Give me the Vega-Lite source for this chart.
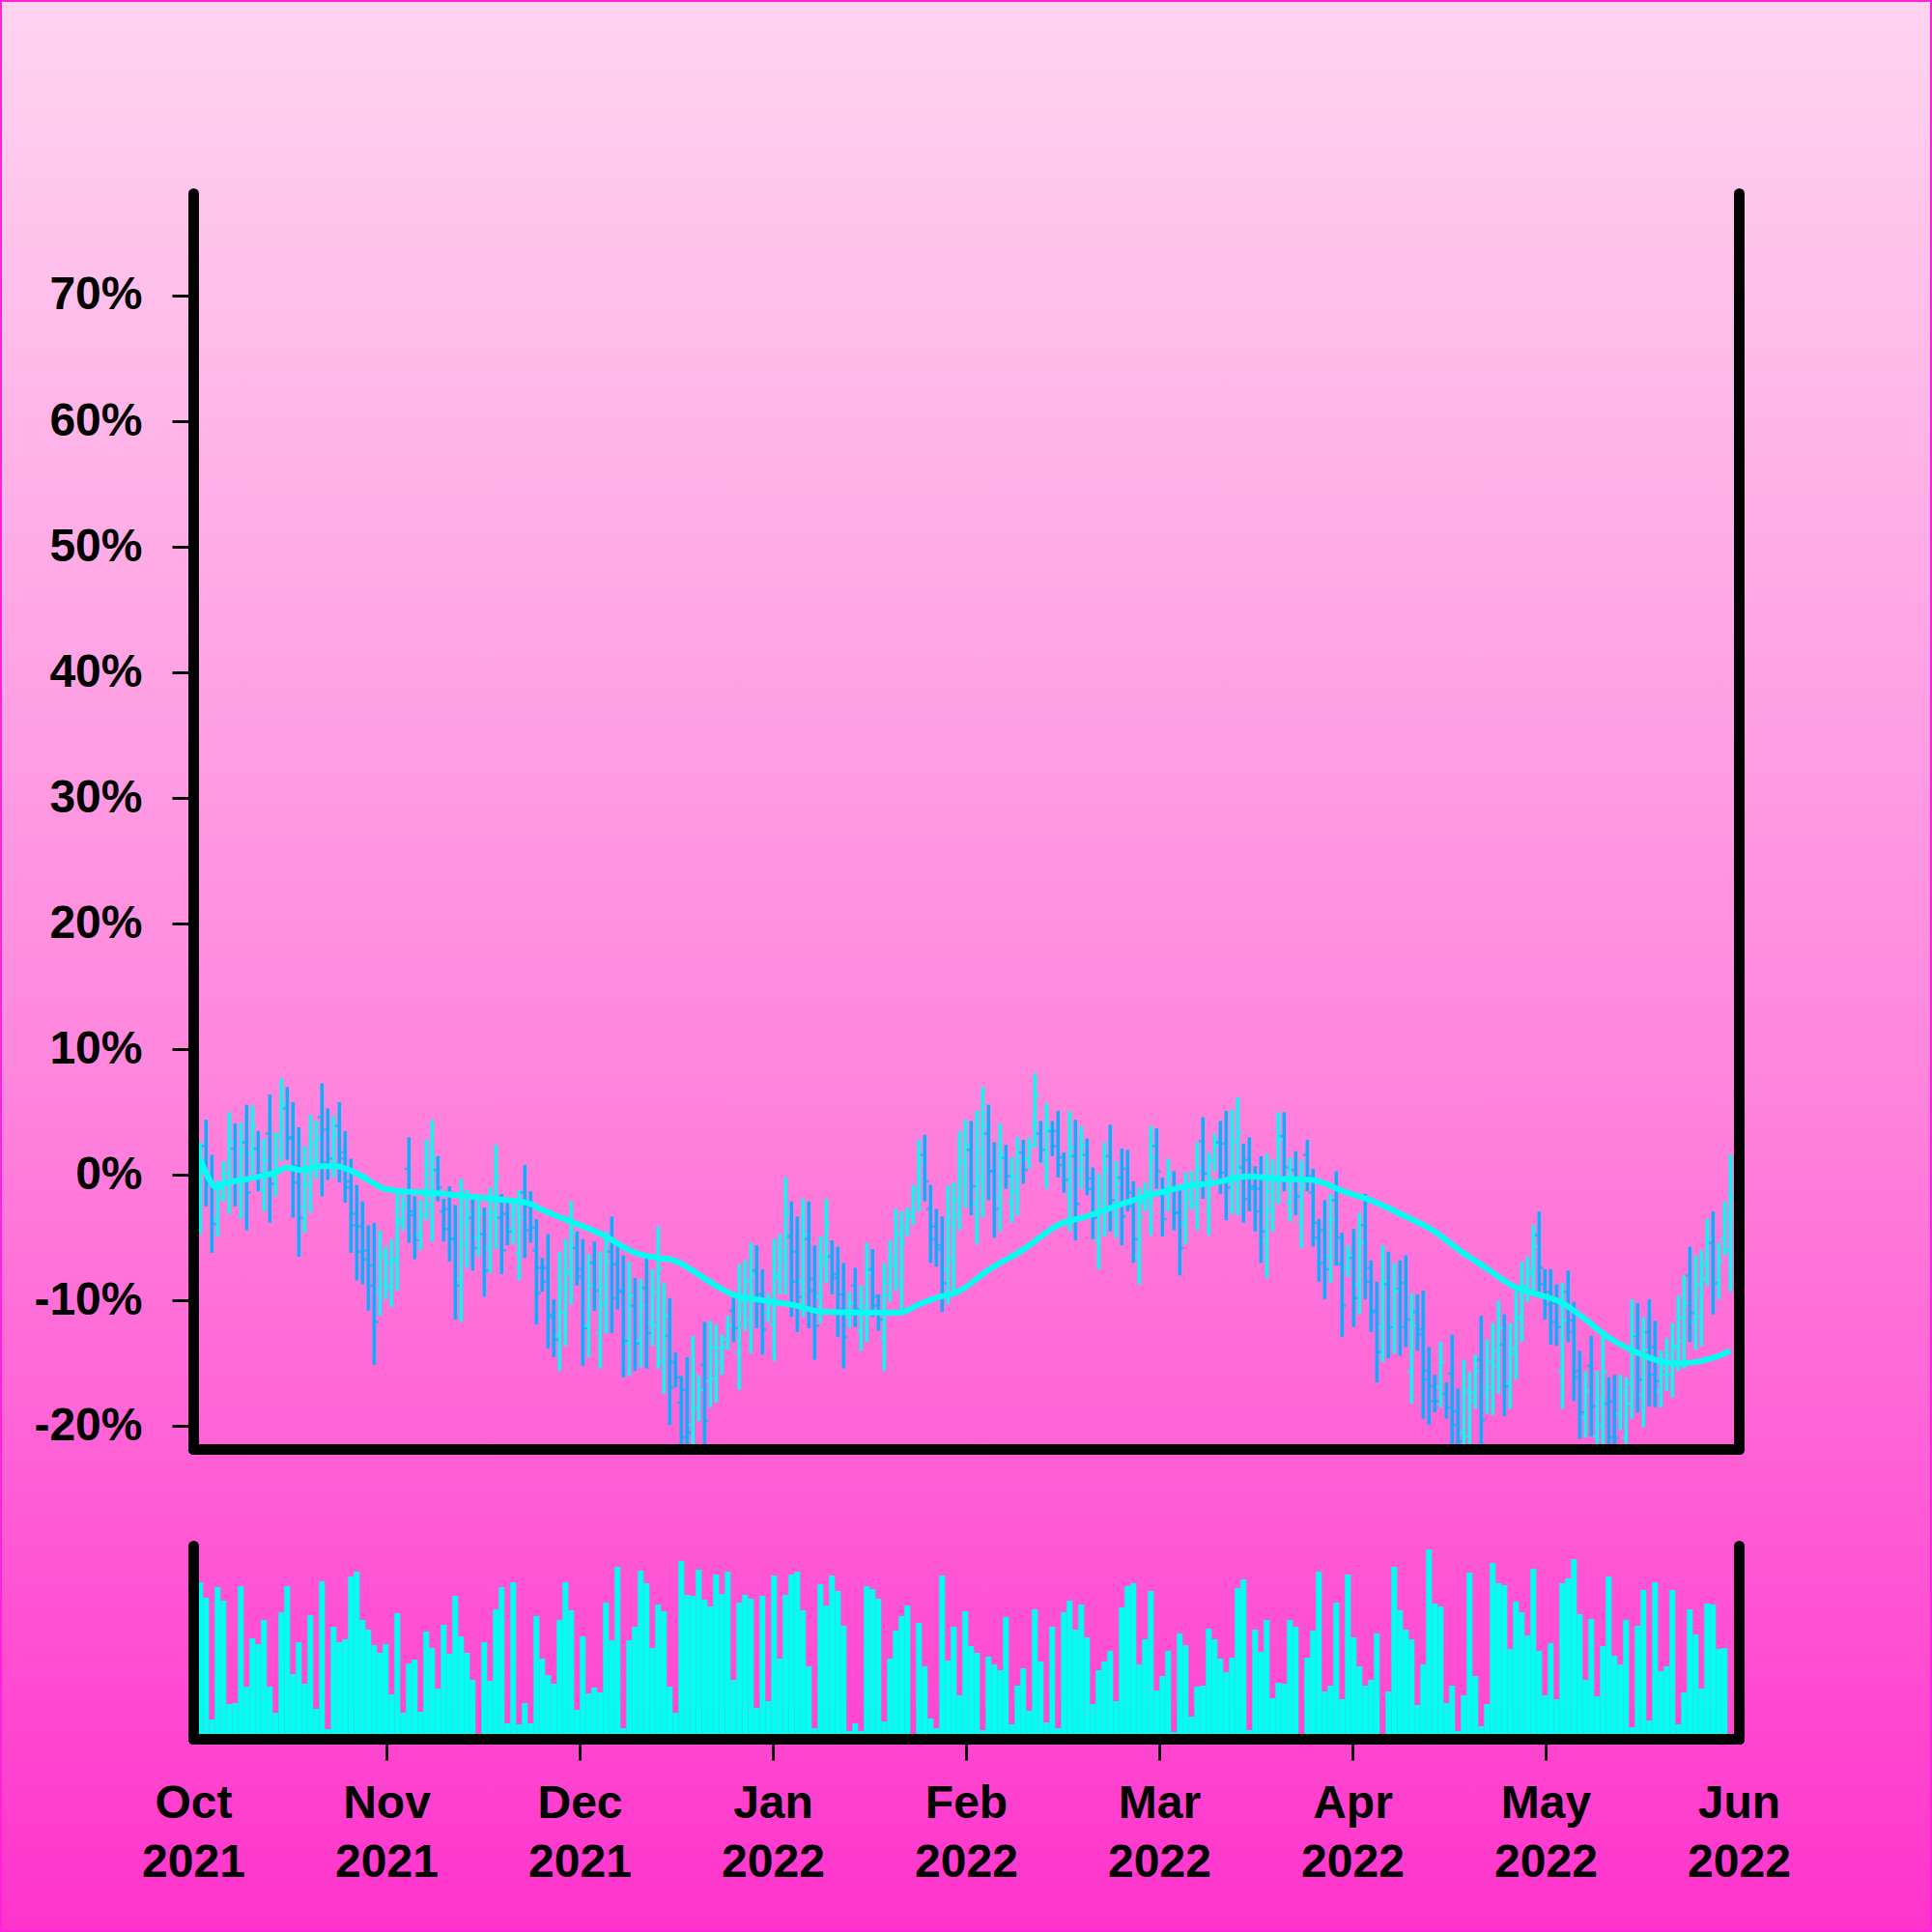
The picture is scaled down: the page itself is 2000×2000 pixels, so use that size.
{
  "$schema": "https://vega.github.io/schema/vega-lite/v6.json",
  "padding": 0,
  "autosize": {"type": "pad"},
  "background": "#FF22DA",
  "spacing": 100,
  "bounds": "flush",
  "config": {
    "view": {"stroke": null},
    "axis": {"labelFont": "Liberation Sans", "labelFontSize": 48, "labelFontWeight": "bold", "labelColor": "#000000", "domainColor": "#000000", "tickColor": "#000000", "grid": false}
  },
  "datasets": {
    "bars": [
      {"i":0,"o":-2.4,"h":2.5,"l":-4.5,"c":0.4,"v":150},
      {"i":1,"o":-2.5,"h":2.6,"l":-4.7,"c":0.4,"v":162},
      {"i":2,"o":2.3,"h":4.4,"l":-2.5,"c":-0.4,"v":146},
      {"i":3,"o":-0.7,"h":1.6,"l":-6.2,"c":-3.9,"v":20},
      {"i":4,"o":-3.5,"h":-0.4,"l":-4.9,"c":-1.8,"v":157},
      {"i":5,"o":-1.1,"h":1.1,"l":-2.1,"c":0.1,"v":143},
      {"i":6,"o":-0.7,"h":5.0,"l":-3.1,"c":2.6,"v":36},
      {"i":7,"o":2.1,"h":4.1,"l":-2.5,"c":-0.5,"v":37},
      {"i":8,"o":-1.2,"h":4.2,"l":-3.5,"c":1.9,"v":158},
      {"i":9,"o":2.6,"h":5.6,"l":-4.4,"c":-1.4,"v":54},
      {"i":10,"o":1.7,"h":5.5,"l":0.1,"c":3.9,"v":104},
      {"i":11,"o":2.1,"h":3.5,"l":-1.3,"c":0.1,"v":98},
      {"i":12,"o":-1.2,"h":2.9,"l":-2.9,"c":1.2,"v":123},
      {"i":13,"o":3.3,"h":6.4,"l":-3.8,"c":-0.7,"v":54},
      {"i":14,"o":-0.2,"h":3.4,"l":-1.7,"c":1.9,"v":27},
      {"i":15,"o":3.1,"h":7.7,"l":1.1,"c":5.7,"v":131},
      {"i":16,"o":5.3,"h":7.0,"l":1.2,"c":2.9,"v":158},
      {"i":17,"o":3.0,"h":5.8,"l":-3.4,"c":-0.6,"v":67},
      {"i":18,"o":0.7,"h":3.8,"l":-6.5,"c":-3.4,"v":100},
      {"i":19,"o":-2.5,"h":2.3,"l":-4.6,"c":0.2,"v":57},
      {"i":20,"o":-0.7,"h":4.8,"l":-3.0,"c":2.5,"v":128},
      {"i":21,"o":1.1,"h":4.3,"l":-0.3,"c":2.9,"v":31},
      {"i":22,"o":4.6,"h":7.3,"l":-1.7,"c":1.0,"v":163},
      {"i":23,"o":3.6,"h":5.3,"l":-0.4,"c":1.3,"v":10},
      {"i":24,"o":1.3,"h":4.7,"l":-0.2,"c":3.2,"v":116},
      {"i":25,"o":3.9,"h":5.8,"l":-0.6,"c":1.3,"v":100},
      {"i":26,"o":1.8,"h":3.5,"l":-2.2,"c":-0.5,"v":103},
      {"i":27,"o":-1.0,"h":1.3,"l":-6.2,"c":-4.0,"v":168},
      {"i":28,"o":-3.1,"h":-0.8,"l":-8.4,"c":-6.1,"v":173},
      {"i":29,"o":-4.1,"h":-2.1,"l":-8.7,"c":-6.7,"v":123},
      {"i":30,"o":-6.0,"h":-4.0,"l":-10.8,"c":-8.8,"v":113},
      {"i":31,"o":-7.2,"h":-3.8,"l":-15.1,"c":-11.7,"v":97},
      {"i":32,"o":-9.2,"h":-4.4,"l":-11.2,"c":-6.4,"v":89},
      {"i":33,"o":-8.6,"h":-5.7,"l":-9.9,"c":-7.0,"v":98},
      {"i":34,"o":-8.9,"h":-5.1,"l":-10.5,"c":-6.7,"v":46},
      {"i":35,"o":-6.9,"h":-1.5,"l":-9.2,"c":-3.8,"v":130},
      {"i":36,"o":-3.6,"h":-1.6,"l":-4.4,"c":-2.4,"v":27},
      {"i":37,"o":0.5,"h":3.0,"l":-5.4,"c":-2.9,"v":78},
      {"i":38,"o":-3.2,"h":-1.7,"l":-6.7,"c":-5.2,"v":82},
      {"i":39,"o":-4.8,"h":-2.0,"l":-6.0,"c":-3.2,"v":28},
      {"i":40,"o":-1.7,"h":2.8,"l":-3.6,"c":0.9,"v":111},
      {"i":41,"o":-2.4,"h":4.4,"l":-5.3,"c":1.5,"v":94},
      {"i":42,"o":0.4,"h":1.5,"l":-2.1,"c":-1.0,"v":52},
      {"i":43,"o":-2.9,"h":-1.9,"l":-5.3,"c":-4.3,"v":118},
      {"i":44,"o":-2.7,"h":-0.9,"l":-6.9,"c":-5.1,"v":88},
      {"i":45,"o":-5.1,"h":-2.4,"l":-11.5,"c":-8.8,"v":148},
      {"i":46,"o":-8.3,"h":-0.3,"l":-11.7,"c":-3.7,"v":106},
      {"i":47,"o":-5.5,"h":-1.2,"l":-7.4,"c":-3.1,"v":89},
      {"i":48,"o":-3.4,"h":-1.6,"l":-7.6,"c":-5.8,"v":61},
      {"i":49,"o":-5.0,"h":-1.6,"l":-6.5,"c":-3.1,"v":0},
      {"i":50,"o":-4.7,"h":-2.6,"l":-9.7,"c":-7.6,"v":100},
      {"i":51,"o":-5.8,"h":-1.0,"l":-7.8,"c":-3.0,"v":60},
      {"i":52,"o":-3.4,"h":2.4,"l":-5.9,"c":-0.1,"v":134},
      {"i":53,"o":-3.4,"h":-1.5,"l":-7.9,"c":-6.0,"v":157},
      {"i":54,"o":-3.1,"h":-2.0,"l":-5.6,"c":-4.5,"v":16},
      {"i":55,"o":-4.4,"h":-1.8,"l":-5.5,"c":-2.9,"v":162},
      {"i":56,"o":-6.2,"h":-1.2,"l":-8.4,"c":-3.4,"v":15},
      {"i":57,"o":-1.4,"h":0.8,"l":-6.6,"c":-4.4,"v":37},
      {"i":58,"o":-2.5,"h":-1.3,"l":-5.4,"c":-4.2,"v":16},
      {"i":59,"o":-6.0,"h":-3.5,"l":-11.9,"c":-9.4,"v":127},
      {"i":60,"o":-7.4,"h":-6.6,"l":-9.3,"c":-8.5,"v":83},
      {"i":61,"o":-7.4,"h":-4.7,"l":-13.8,"c":-11.1,"v":66},
      {"i":62,"o":-11.3,"h":-9.9,"l":-14.5,"c":-13.1,"v":57},
      {"i":63,"o":-12.8,"h":-6.1,"l":-15.6,"c":-9.0,"v":123},
      {"i":64,"o":-11.0,"h":-5.1,"l":-13.6,"c":-7.7,"v":162},
      {"i":65,"o":-7.8,"h":-2.1,"l":-10.3,"c":-4.6,"v":133},
      {"i":66,"o":-5.8,"h":-4.5,"l":-8.8,"c":-7.5,"v":30},
      {"i":67,"o":-8.1,"h":-5.1,"l":-15.2,"c":-12.2,"v":106},
      {"i":68,"o":-12.0,"h":-6.3,"l":-14.5,"c":-8.8,"v":47},
      {"i":69,"o":-7.0,"h":-5.3,"l":-10.8,"c":-9.2,"v":53},
      {"i":70,"o":-12.6,"h":-6.1,"l":-15.4,"c":-8.9,"v":48},
      {"i":71,"o":-10.2,"h":-4.5,"l":-12.6,"c":-6.9,"v":141},
      {"i":72,"o":-6.1,"h":-3.3,"l":-12.6,"c":-9.8,"v":102},
      {"i":73,"o":-7.1,"h":-5.6,"l":-10.7,"c":-9.2,"v":178},
      {"i":74,"o":-9.3,"h":-6.4,"l":-16.1,"c":-13.2,"v":11},
      {"i":75,"o":-13.3,"h":-6.9,"l":-16.0,"c":-9.6,"v":102},
      {"i":76,"o":-10.4,"h":-8.2,"l":-15.6,"c":-13.4,"v":116},
      {"i":77,"o":-13.2,"h":-8.3,"l":-15.3,"c":-10.4,"v":174},
      {"i":78,"o":-9.0,"h":-6.2,"l":-15.4,"c":-12.6,"v":161},
      {"i":79,"o":-11.8,"h":-7.5,"l":-13.6,"c":-9.3,"v":94},
      {"i":80,"o":-12.0,"h":-4.1,"l":-15.4,"c":-7.5,"v":139},
      {"i":81,"o":-14.8,"h":-8.6,"l":-17.4,"c":-11.2,"v":132},
      {"i":82,"o":-12.8,"h":-9.8,"l":-19.9,"c":-16.9,"v":54},
      {"i":83,"o":-14.9,"h":-14.1,"l":-16.9,"c":-16.1,"v":27},
      {"i":84,"o":-18.1,"h":-16.0,"l":-23.0,"c":-20.9,"v":184},
      {"i":85,"o":-17.1,"h":-14.5,"l":-23.0,"c":-20.5,"v":149},
      {"i":86,"o":-19.9,"h":-12.8,"l":-23.0,"c":-15.9,"v":148},
      {"i":87,"o":-18.5,"h":-16.0,"l":-19.6,"c":-17.1,"v":175},
      {"i":88,"o":-15.1,"h":-11.7,"l":-23.0,"c":-19.6,"v":144},
      {"i":89,"o":-16.4,"h":-11.6,"l":-18.5,"c":-13.7,"v":137},
      {"i":90,"o":-16.2,"h":-11.9,"l":-18.1,"c":-13.8,"v":170},
      {"i":91,"o":-14.9,"h":-12.7,"l":-15.9,"c":-13.7,"v":150},
      {"i":92,"o":-13.1,"h":-11.2,"l":-13.9,"c":-12.0,"v":173},
      {"i":93,"o":-10.8,"h":-9.7,"l":-13.3,"c":-12.2,"v":61},
      {"i":94,"o":-14.1,"h":-7.1,"l":-17.1,"c":-10.1,"v":141},
      {"i":95,"o":-10.7,"h":-6.8,"l":-12.4,"c":-8.5,"v":149},
      {"i":96,"o":-11.6,"h":-5.4,"l":-14.2,"c":-8.0,"v":145},
      {"i":97,"o":-7.6,"h":-5.6,"l":-12.2,"c":-10.2,"v":32},
      {"i":98,"o":-9.5,"h":-7.5,"l":-14.3,"c":-12.3,"v":148},
      {"i":99,"o":-11.0,"h":-9.4,"l":-11.7,"c":-10.1,"v":39},
      {"i":100,"o":-11.9,"h":-5.1,"l":-14.8,"c":-8.0,"v":169},
      {"i":101,"o":-8.1,"h":-4.7,"l":-9.5,"c":-6.1,"v":83},
      {"i":102,"o":-6.7,"h":-0.2,"l":-9.5,"c":-3.0,"v":149},
      {"i":103,"o":-4.9,"h":-2.1,"l":-11.3,"c":-8.5,"v":170},
      {"i":104,"o":-6.1,"h":-3.3,"l":-12.5,"c":-9.7,"v":173},
      {"i":105,"o":-8.5,"h":-1.9,"l":-11.3,"c":-4.7,"v":133},
      {"i":106,"o":-5.1,"h":-2.1,"l":-12.2,"c":-9.2,"v":75},
      {"i":107,"o":-8.3,"h":-5.6,"l":-14.7,"c":-12.0,"v":11},
      {"i":108,"o":-9.7,"h":-4.9,"l":-11.8,"c":-7.0,"v":160},
      {"i":109,"o":-6.6,"h":-1.9,"l":-8.6,"c":-3.9,"v":138},
      {"i":110,"o":-6.5,"h":-5.2,"l":-9.5,"c":-8.2,"v":169},
      {"i":111,"o":-7.9,"h":-5.7,"l":-12.9,"c":-10.7,"v":153},
      {"i":112,"o":-9.5,"h":-7.0,"l":-15.4,"c":-12.9,"v":117},
      {"i":113,"o":-11.3,"h":-9.3,"l":-12.2,"c":-10.2,"v":8},
      {"i":114,"o":-8.8,"h":-7.4,"l":-12.1,"c":-10.7,"v":16},
      {"i":115,"o":-12.4,"h":-8.8,"l":-14.0,"c":-10.4,"v":8},
      {"i":116,"o":-10.9,"h":-5.4,"l":-13.3,"c":-7.8,"v":158},
      {"i":117,"o":-7.5,"h":-5.9,"l":-11.3,"c":-9.7,"v":155},
      {"i":118,"o":-10.4,"h":-9.5,"l":-12.4,"c":-11.5,"v":145},
      {"i":119,"o":-13.0,"h":-7.0,"l":-15.6,"c":-9.6,"v":18},
      {"i":120,"o":-8.6,"h":-5.2,"l":-10.1,"c":-6.7,"v":83},
      {"i":121,"o":-7.2,"h":-2.7,"l":-9.2,"c":-4.7,"v":112},
      {"i":122,"o":-8.6,"h":-2.9,"l":-11.1,"c":-5.4,"v":127},
      {"i":123,"o":-4.2,"h":-2.6,"l":-4.9,"c":-3.3,"v":138},
      {"i":124,"o":-3.0,"h":-0.8,"l":-4.0,"c":-1.8,"v":0},
      {"i":125,"o":-1.2,"h":2.8,"l":-2.9,"c":1.1,"v":120},
      {"i":126,"o":1.6,"h":3.2,"l":-2.1,"c":-0.5,"v":75},
      {"i":127,"o":-2.7,"h":-0.8,"l":-7.0,"c":-5.1,"v":21},
      {"i":128,"o":-4.1,"h":-2.7,"l":-7.3,"c":-5.9,"v":11},
      {"i":129,"o":-5.6,"h":-3.3,"l":-10.9,"c":-8.6,"v":169},
      {"i":130,"o":-7.5,"h":-0.8,"l":-10.3,"c":-3.7,"v":81},
      {"i":131,"o":-6.7,"h":-0.6,"l":-9.3,"c":-3.2,"v":116},
      {"i":132,"o":-2.0,"h":3.5,"l":-4.4,"c":1.1,"v":45},
      {"i":133,"o":-0.5,"h":4.4,"l":-2.6,"c":2.3,"v":132},
      {"i":134,"o":2.0,"h":4.3,"l":-3.2,"c":-0.9,"v":96},
      {"i":135,"o":-2.3,"h":5.1,"l":-5.5,"c":1.9,"v":89},
      {"i":136,"o":-0.3,"h":7.0,"l":-3.4,"c":3.9,"v":9},
      {"i":137,"o":3.3,"h":5.6,"l":-2.0,"c":0.3,"v":85},
      {"i":138,"o":0.3,"h":2.6,"l":-5.0,"c":-2.7,"v":77},
      {"i":139,"o":-1.9,"h":4.1,"l":-4.5,"c":1.5,"v":71},
      {"i":140,"o":1.4,"h":2.4,"l":-1.1,"c":-0.1,"v":126},
      {"i":141,"o":-2.2,"h":1.4,"l":-3.8,"c":-0.2,"v":15},
      {"i":142,"o":-1.3,"h":3.0,"l":-3.2,"c":1.1,"v":55},
      {"i":143,"o":1.8,"h":2.8,"l":-0.7,"c":0.4,"v":73},
      {"i":144,"o":1.3,"h":3.0,"l":0.5,"c":2.3,"v":29},
      {"i":145,"o":4.0,"h":8.1,"l":2.2,"c":6.3,"v":134},
      {"i":146,"o":3.3,"h":4.3,"l":1.0,"c":2.0,"v":80},
      {"i":147,"o":0.9,"h":5.7,"l":-1.1,"c":3.7,"v":17},
      {"i":148,"o":3.5,"h":4.3,"l":1.5,"c":2.3,"v":116},
      {"i":149,"o":3.5,"h":5.1,"l":-0.2,"c":1.4,"v":11},
      {"i":150,"o":0.8,"h":1.8,"l":-1.4,"c":-0.4,"v":131},
      {"i":151,"o":-1.6,"h":5.1,"l":-4.5,"c":2.2,"v":143},
      {"i":152,"o":1.5,"h":4.4,"l":-5.2,"c":-2.3,"v":113},
      {"i":153,"o":0.4,"h":3.9,"l":-1.1,"c":2.4,"v":139},
      {"i":154,"o":1.6,"h":2.9,"l":-1.6,"c":-0.3,"v":105},
      {"i":155,"o":-1.1,"h":0.6,"l":-5.1,"c":-3.4,"v":36},
      {"i":156,"o":-5.2,"h":0.1,"l":-7.5,"c":-2.2,"v":71},
      {"i":157,"o":-2.7,"h":2.6,"l":-4.9,"c":0.4,"v":80},
      {"i":158,"o":1.5,"h":4.0,"l":-4.5,"c":-2.0,"v":91},
      {"i":159,"o":-3.2,"h":1.1,"l":-5.0,"c":-0.7,"v":39},
      {"i":160,"o":-0.2,"h":2.1,"l":-5.6,"c":-3.3,"v":136},
      {"i":161,"o":0.5,"h":2.0,"l":-2.9,"c":-1.4,"v":158},
      {"i":162,"o":-2.5,"h":-0.5,"l":-7.0,"c":-5.1,"v":161},
      {"i":163,"o":-6.4,"h":-1.0,"l":-8.7,"c":-3.3,"v":77},
      {"i":164,"o":-2.2,"h":-0.6,"l":-2.9,"c":-1.3,"v":103},
      {"i":165,"o":-2.2,"h":3.9,"l":-4.8,"c":1.3,"v":153},
      {"i":166,"o":2.3,"h":3.7,"l":-1.1,"c":0.3,"v":50},
      {"i":167,"o":-1.6,"h":-0.2,"l":-4.9,"c":-3.5,"v":65},
      {"i":168,"o":-1.6,"h":1.3,"l":-2.9,"c":0.0,"v":91},
      {"i":169,"o":-1.1,"h":0.3,"l":-4.4,"c":-3.0,"v":7},
      {"i":170,"o":-3.0,"h":-0.8,"l":-8.0,"c":-5.8,"v":109},
      {"i":171,"o":-3.8,"h":0.2,"l":-5.5,"c":-1.5,"v":97},
      {"i":172,"o":-1.9,"h":0.3,"l":-2.8,"c":-0.6,"v":23},
      {"i":173,"o":-2.3,"h":2.6,"l":-4.4,"c":0.5,"v":54},
      {"i":174,"o":2.7,"h":4.6,"l":-1.9,"c":0.1,"v":55},
      {"i":175,"o":-2.8,"h":1.8,"l":-4.8,"c":-0.2,"v":114},
      {"i":176,"o":1.2,"h":3.3,"l":0.3,"c":2.4,"v":103},
      {"i":177,"o":2.6,"h":4.3,"l":-1.5,"c":0.2,"v":83},
      {"i":178,"o":2.5,"h":5.1,"l":-3.6,"c":-1.0,"v":69},
      {"i":179,"o":-0.6,"h":5.2,"l":-3.1,"c":2.7,"v":84},
      {"i":180,"o":-0.4,"h":6.2,"l":-3.2,"c":3.4,"v":156},
      {"i":181,"o":0.6,"h":2.5,"l":-3.8,"c":-1.9,"v":165},
      {"i":182,"o":1.2,"h":3.0,"l":-2.9,"c":-1.1,"v":9},
      {"i":183,"o":-0.9,"h":0.7,"l":-4.5,"c":-2.9,"v":113},
      {"i":184,"o":-1.1,"h":1.5,"l":-7.0,"c":-4.5,"v":90},
      {"i":185,"o":-5.2,"h":1.7,"l":-8.2,"c":-1.3,"v":123},
      {"i":186,"o":-2.8,"h":1.2,"l":-4.5,"c":-0.5,"v":42},
      {"i":187,"o":-0.1,"h":5.0,"l":-2.3,"c":2.8,"v":58},
      {"i":188,"o":3.1,"h":5.0,"l":-1.3,"c":0.6,"v":57},
      {"i":189,"o":-2.2,"h":1.4,"l":-3.7,"c":-0.1,"v":123},
      {"i":190,"o":0.4,"h":1.9,"l":-3.2,"c":-1.7,"v":116},
      {"i":191,"o":-3.7,"h":1.2,"l":-5.8,"c":-0.9,"v":0},
      {"i":192,"o":1.6,"h":2.8,"l":-1.3,"c":-0.1,"v":84},
      {"i":193,"o":-1.4,"h":0.5,"l":-5.7,"c":-3.8,"v":112},
      {"i":194,"o":-5.0,"h":-3.5,"l":-8.5,"c":-7.0,"v":173},
      {"i":195,"o":-4.4,"h":-2.0,"l":-9.9,"c":-7.5,"v":49},
      {"i":196,"o":-6.5,"h":-1.5,"l":-8.6,"c":-3.6,"v":55},
      {"i":197,"o":-2.0,"h":0.3,"l":-7.2,"c":-5.0,"v":141},
      {"i":198,"o":-7.1,"h":-4.6,"l":-12.9,"c":-10.4,"v":41},
      {"i":199,"o":-7.4,"h":-5.6,"l":-8.1,"c":-6.4,"v":170},
      {"i":200,"o":-6.6,"h":-4.3,"l":-12.1,"c":-9.8,"v":105},
      {"i":201,"o":-8.7,"h":-3.0,"l":-11.1,"c":-5.4,"v":75},
      {"i":202,"o":-4.0,"h":-1.5,"l":-9.9,"c":-7.4,"v":55},
      {"i":203,"o":-8.5,"h":-6.8,"l":-12.5,"c":-10.8,"v":61},
      {"i":204,"o":-10.9,"h":-8.5,"l":-16.5,"c":-14.1,"v":109},
      {"i":205,"o":-12.1,"h":-5.6,"l":-14.9,"c":-8.4,"v":0},
      {"i":206,"o":-8.7,"h":-6.1,"l":-14.6,"c":-12.1,"v":49},
      {"i":207,"o":-12.0,"h":-7.0,"l":-14.2,"c":-9.2,"v":178},
      {"i":208,"o":-9.1,"h":-6.8,"l":-14.4,"c":-12.1,"v":133},
      {"i":209,"o":-8.6,"h":-6.4,"l":-13.7,"c":-11.5,"v":113},
      {"i":210,"o":-15.6,"h":-9.4,"l":-18.2,"c":-12.0,"v":103},
      {"i":211,"o":-10.9,"h":-9.5,"l":-14.0,"c":-12.7,"v":35},
      {"i":212,"o":-12.3,"h":-9.2,"l":-19.4,"c":-16.3,"v":77},
      {"i":213,"o":-15.6,"h":-13.7,"l":-19.9,"c":-18.0,"v":196},
      {"i":214,"o":-16.8,"h":-15.9,"l":-18.9,"c":-18.0,"v":140},
      {"i":215,"o":-16.9,"h":-13.3,"l":-18.5,"c":-14.9,"v":137},
      {"i":216,"o":-17.4,"h":-16.5,"l":-19.4,"c":-18.5,"v":37},
      {"i":217,"o":-15.8,"h":-12.7,"l":-23.0,"c":-19.9,"v":55},
      {"i":218,"o":-18.8,"h":-17.0,"l":-23.0,"c":-21.2,"v":8},
      {"i":219,"o":-20.5,"h":-14.7,"l":-23.0,"c":-17.2,"v":45},
      {"i":220,"o":-20.8,"h":-15.7,"l":-23.0,"c":-17.9,"v":172},
      {"i":221,"o":-17.3,"h":-14.3,"l":-18.6,"c":-15.6,"v":65},
      {"i":222,"o":-14.7,"h":-11.2,"l":-23.0,"c":-19.5,"v":13},
      {"i":223,"o":-17.2,"h":-13.1,"l":-19.0,"c":-14.9,"v":36},
      {"i":224,"o":-16.9,"h":-11.8,"l":-19.1,"c":-14.0,"v":182},
      {"i":225,"o":-15.2,"h":-10.0,"l":-17.4,"c":-12.2,"v":161},
      {"i":226,"o":-13.5,"h":-11.1,"l":-19.2,"c":-16.8,"v":159},
      {"i":227,"o":-16.6,"h":-11.8,"l":-18.6,"c":-13.8,"v":93},
      {"i":228,"o":-14.2,"h":-9.2,"l":-16.3,"c":-11.3,"v":142},
      {"i":229,"o":-11.4,"h":-6.9,"l":-13.3,"c":-8.8,"v":131},
      {"i":230,"o":-9.0,"h":-6.5,"l":-10.1,"c":-7.6,"v":107},
      {"i":231,"o":-7.9,"h":-4.0,"l":-9.5,"c":-5.7,"v":176},
      {"i":232,"o":-4.8,"h":-2.9,"l":-9.3,"c":-7.4,"v":91},
      {"i":233,"o":-8.7,"h":-7.5,"l":-11.5,"c":-10.3,"v":45},
      {"i":234,"o":-9.3,"h":-7.5,"l":-13.5,"c":-11.7,"v":99},
      {"i":235,"o":-10.2,"h":-8.7,"l":-13.6,"c":-12.1,"v":41},
      {"i":236,"o":-15.6,"h":-8.6,"l":-18.6,"c":-11.6,"v":161},
      {"i":237,"o":-9.3,"h":-7.6,"l":-13.3,"c":-11.6,"v":166},
      {"i":238,"o":-12.5,"h":-10.1,"l":-18.0,"c":-15.6,"v":186},
      {"i":239,"o":-16.1,"h":-14.0,"l":-21.0,"c":-18.9,"v":129},
      {"i":240,"o":-19.3,"h":-15.6,"l":-20.9,"c":-17.2,"v":61},
      {"i":241,"o":-15.2,"h":-12.8,"l":-20.8,"c":-18.4,"v":124},
      {"i":242,"o":-20.8,"h":-15.6,"l":-23.0,"c":-17.8,"v":44},
      {"i":243,"o":-19.9,"h":-12.6,"l":-23.0,"c":-15.7,"v":96},
      {"i":244,"o":-18.2,"h":-16.1,"l":-23.0,"c":-20.9,"v":168},
      {"i":245,"o":-18.0,"h":-15.9,"l":-23.0,"c":-20.9,"v":86},
      {"i":246,"o":-19.0,"h":-15.9,"l":-20.3,"c":-17.2,"v":77},
      {"i":247,"o":-20.9,"h":-16.1,"l":-23.0,"c":-18.2,"v":123},
      {"i":248,"o":-16.6,"h":-9.9,"l":-19.4,"c":-12.7,"v":12},
      {"i":249,"o":-12.8,"h":-10.2,"l":-18.9,"c":-16.3,"v":117},
      {"i":250,"o":-17.5,"h":-11.3,"l":-20.1,"c":-13.9,"v":154},
      {"i":251,"o":-12.5,"h":-9.9,"l":-18.4,"c":-15.9,"v":19},
      {"i":252,"o":-13.7,"h":-11.6,"l":-18.5,"c":-16.4,"v":162},
      {"i":253,"o":-17.2,"h":-14.0,"l":-18.5,"c":-15.4,"v":70},
      {"i":254,"o":-15.9,"h":-13.0,"l":-17.2,"c":-14.3,"v":75},
      {"i":255,"o":-15.9,"h":-11.8,"l":-17.7,"c":-13.6,"v":154},
      {"i":256,"o":-13.8,"h":-9.6,"l":-15.6,"c":-11.4,"v":15},
      {"i":257,"o":-13.2,"h":-8.0,"l":-15.4,"c":-10.2,"v":48},
      {"i":258,"o":-8.0,"h":-5.7,"l":-13.3,"c":-11.0,"v":134},
      {"i":259,"o":-11.7,"h":-6.4,"l":-13.9,"c":-8.7,"v":108},
      {"i":260,"o":-11.3,"h":-6.0,"l":-13.6,"c":-8.3,"v":52},
      {"i":261,"o":-7.2,"h":-3.5,"l":-8.8,"c":-5.1,"v":140},
      {"i":262,"o":-5.4,"h":-2.9,"l":-11.1,"c":-8.6,"v":139},
      {"i":263,"o":-8.6,"h":-5.4,"l":-9.9,"c":-6.8,"v":93},
      {"i":264,"o":-5.1,"h":-2.1,"l":-6.4,"c":-3.4,"v":94},
      {"i":265,"o":-6.0,"h":1.6,"l":-9.3,"c":-1.7,"v":0}
    ],
    "ma": [
      {"i":1,"ma":1.2},{"i":2.5,"ma":-0.3},{"i":3.6,"ma":-0.95},{"i":5,"ma":-0.7},{"i":9.4,"ma":-0.3},
      {"i":13.9,"ma":0.2},{"i":16.1,"ma":0.6},{"i":18.3,"ma":0.4},{"i":21.7,"ma":0.7},{"i":24.4,"ma":0.7},
      {"i":27.2,"ma":0.3},{"i":30,"ma":-0.4},{"i":32.8,"ma":-1.1},{"i":36.1,"ma":-1.3},{"i":40.6,"ma":-1.4},
      {"i":45,"ma":-1.6},{"i":49.4,"ma":-1.8},{"i":53.9,"ma":-2.0},{"i":57.2,"ma":-2.2},{"i":60.6,"ma":-2.9},
      {"i":64.4,"ma":-3.6},{"i":70.6,"ma":-4.8},{"i":76.1,"ma":-6.2},{"i":80,"ma":-6.6},{"i":82.8,"ma":-6.8},
      {"i":85.6,"ma":-7.5},{"i":88.9,"ma":-8.5},{"i":92.8,"ma":-9.5},{"i":98.3,"ma":-10.0},{"i":103.9,"ma":-10.4},
      {"i":108.3,"ma":-10.9},{"i":115,"ma":-10.95},{"i":121.7,"ma":-10.95},{"i":125,"ma":-10.3},{"i":127.8,"ma":-9.8},
      {"i":131.7,"ma":-9.3},{"i":137.2,"ma":-7.5},{"i":142.8,"ma":-6.0},{"i":149.4,"ma":-3.9},{"i":153.9,"ma":-3.3},
      {"i":159.4,"ma":-2.4},{"i":165,"ma":-1.6},{"i":170.6,"ma":-0.95},{"i":176.1,"ma":-0.6},{"i":181.7,"ma":-0.1},
      {"i":187.2,"ma":-0.3},{"i":192.8,"ma":-0.4},{"i":198.3,"ma":-1.3},{"i":203.9,"ma":-2.2},{"i":209.4,"ma":-3.4},
      {"i":213.3,"ma":-4.3},{"i":218.9,"ma":-6.2},{"i":222.2,"ma":-7.2},{"i":227.8,"ma":-8.9},{"i":231.7,"ma":-9.5},
      {"i":236.1,"ma":-10.2},{"i":240,"ma":-11.5},{"i":243.9,"ma":-12.9},{"i":248.3,"ma":-14.0},{"i":252.8,"ma":-14.8},
      {"i":255.6,"ma":-15.0},{"i":258.9,"ma":-14.9},{"i":261.7,"ma":-14.6},{"i":265,"ma":-14.0}
    ]
  },
  "vconcat": [
    {
      "width": 1600,
      "height": 1300,
      "layer": [
        {
          "data": {"values": [{}]},
          "mark": {
            "type": "rect",
            "fill": {"gradient": "linear", "x1": 0, "y1": 0, "x2": 0, "y2": 1,
              "stops": [
                {"offset": 0, "color": "#FFD4F0"},
                {"offset": 0.55, "color": "#FF86DD"},
                {"offset": 0.8, "color": "#FF58D4"},
                {"offset": 1, "color": "#FF33CC"}
              ]},
            "stroke": "#FF22DA",
            "strokeWidth": 2
          },
          "encoding": {
            "x": {"datum": -33.383, "type": "quantitative", "scale": {"domain": [-0.2167, 266.45], "nice": false, "zero": false, "padding": 0}, "axis": null},
            "x2": {"datum": 299.617},
            "y": {"datum": 93.45, "type": "quantitative", "scale": {"domain": [-21.81, 78.15], "nice": false, "zero": false}, "axis": null},
            "y2": {"datum": -60.18}
          }
        },
        {
          "data": {"name": "bars"},
          "mark": {"type": "rule", "strokeWidth": 3.5, "clip": true},
          "encoding": {
            "x": {"field": "i", "type": "quantitative", "scale": {"domain": [-0.2167, 266.45], "nice": false, "zero": false, "padding": 0},
              "axis": {"orient": "bottom", "labels": false, "ticks": false, "domain": true, "domainWidth": 11, "domainCap": "round", "title": null, "zindex": 1, "grid": false}},
            "y": {"field": "l", "type": "quantitative", "scale": {"domain": [-21.81, 78.15], "nice": false, "zero": false},
              "axis": {"orient": "left", "values": [-20, -10, 0, 10, 20, 30, 40, 50, 60, 70], "labelExpr": "datum.value + '%'", "tickSize": 22, "tickWidth": 3, "labelPadding": 31, "labelOverlap": false, "labelFlush": false, "domainWidth": 11, "domainCap": "round", "title": null, "zindex": 1, "grid": false}},
            "y2": {"field": "h"},
            "color": {"condition": {"test": "datum.c >= datum.o", "value": "#00FFF0"}, "value": "#00B2FF"}
          }
        },
        {
          "data": {"name": "bars"},
          "mark": {"type": "tick", "orient": "horizontal", "size": 4, "thickness": 2.5, "xOffset": -2.5, "clip": true},
          "encoding": {
            "x": {"field": "i", "type": "quantitative", "axis": null},
            "y": {"field": "o", "type": "quantitative", "axis": null},
            "color": {"condition": {"test": "datum.c >= datum.o", "value": "#00FFF0"}, "value": "#00B2FF"}
          }
        },
        {
          "data": {"name": "bars"},
          "mark": {"type": "tick", "orient": "horizontal", "size": 4, "thickness": 2.5, "xOffset": 2.5, "clip": true},
          "encoding": {
            "x": {"field": "i", "type": "quantitative", "axis": null},
            "y": {"field": "c", "type": "quantitative", "axis": null},
            "color": {"condition": {"test": "datum.c >= datum.o", "value": "#00FFF0"}, "value": "#00B2FF"}
          }
        },
        {
          "data": {"name": "ma"},
          "mark": {"type": "line", "color": "#00FFF0", "strokeWidth": 6, "interpolate": "monotone", "clip": true},
          "encoding": {
            "x": {"field": "i", "type": "quantitative", "axis": null},
            "y": {"field": "ma", "type": "quantitative",
              "axis": {"orient": "right", "labels": false, "ticks": false, "domain": true, "domainWidth": 11, "domainCap": "round", "title": null, "zindex": 1, "grid": false}}
          }
        }
      ],
      "resolve": {"axis": {"x": "independent", "y": "independent"}}
    },
    {
      "width": 1600,
      "height": 200,
      "layer": [
        {
          "data": {"name": "bars"},
          "mark": {"type": "bar", "color": "#00FFF0", "width": 6},
          "encoding": {
            "x": {"field": "i", "type": "quantitative", "scale": {"domain": [-0.2167, 266.45], "nice": false, "zero": false, "padding": 0},
              "axis": {"orient": "bottom", "values": [-0.2167, 33.1167, 66.45, 99.7833, 133.1167, 166.45, 199.7833, 233.1167, 266.45],
                "labelExpr": "[['Oct','Nov','Dec','Jan','Feb','Mar','Apr','May','Jun'][round((datum.value + 0.2167) / 33.3333)], round((datum.value + 0.2167) / 33.3333) < 3 ? '2021' : '2022']",
                "tickSize": 22, "tickWidth": 3,
                "tickOpacity": {"condition": {"test": "datum.value < 0 || datum.value > 266", "value": 0}, "value": 1},
                "labelPadding": 21, "labelLineHeight": 61, "labelAngle": 0, "labelFlush": false, "labelOverlap": false, "labelBound": false,
                "domainWidth": 11, "domainCap": "round", "title": null, "zindex": 1, "grid": false}},
            "y": {"field": "v", "type": "quantitative", "scale": {"domain": [0, 200], "nice": false},
              "axis": {"orient": "left", "labels": false, "ticks": false, "domain": true, "domainWidth": 11, "domainCap": "round", "title": null, "zindex": 1, "grid": false}}
          }
        },
        {
          "data": {"values": [{}]},
          "mark": {"type": "rule", "opacity": 0},
          "encoding": {
            "y": {"datum": 0, "type": "quantitative",
              "axis": {"orient": "right", "labels": false, "ticks": false, "domain": true, "domainWidth": 11, "domainCap": "round", "title": null, "zindex": 1, "grid": false}}
          }
        }
      ],
      "resolve": {"axis": {"y": "independent"}}
    }
  ]
}
